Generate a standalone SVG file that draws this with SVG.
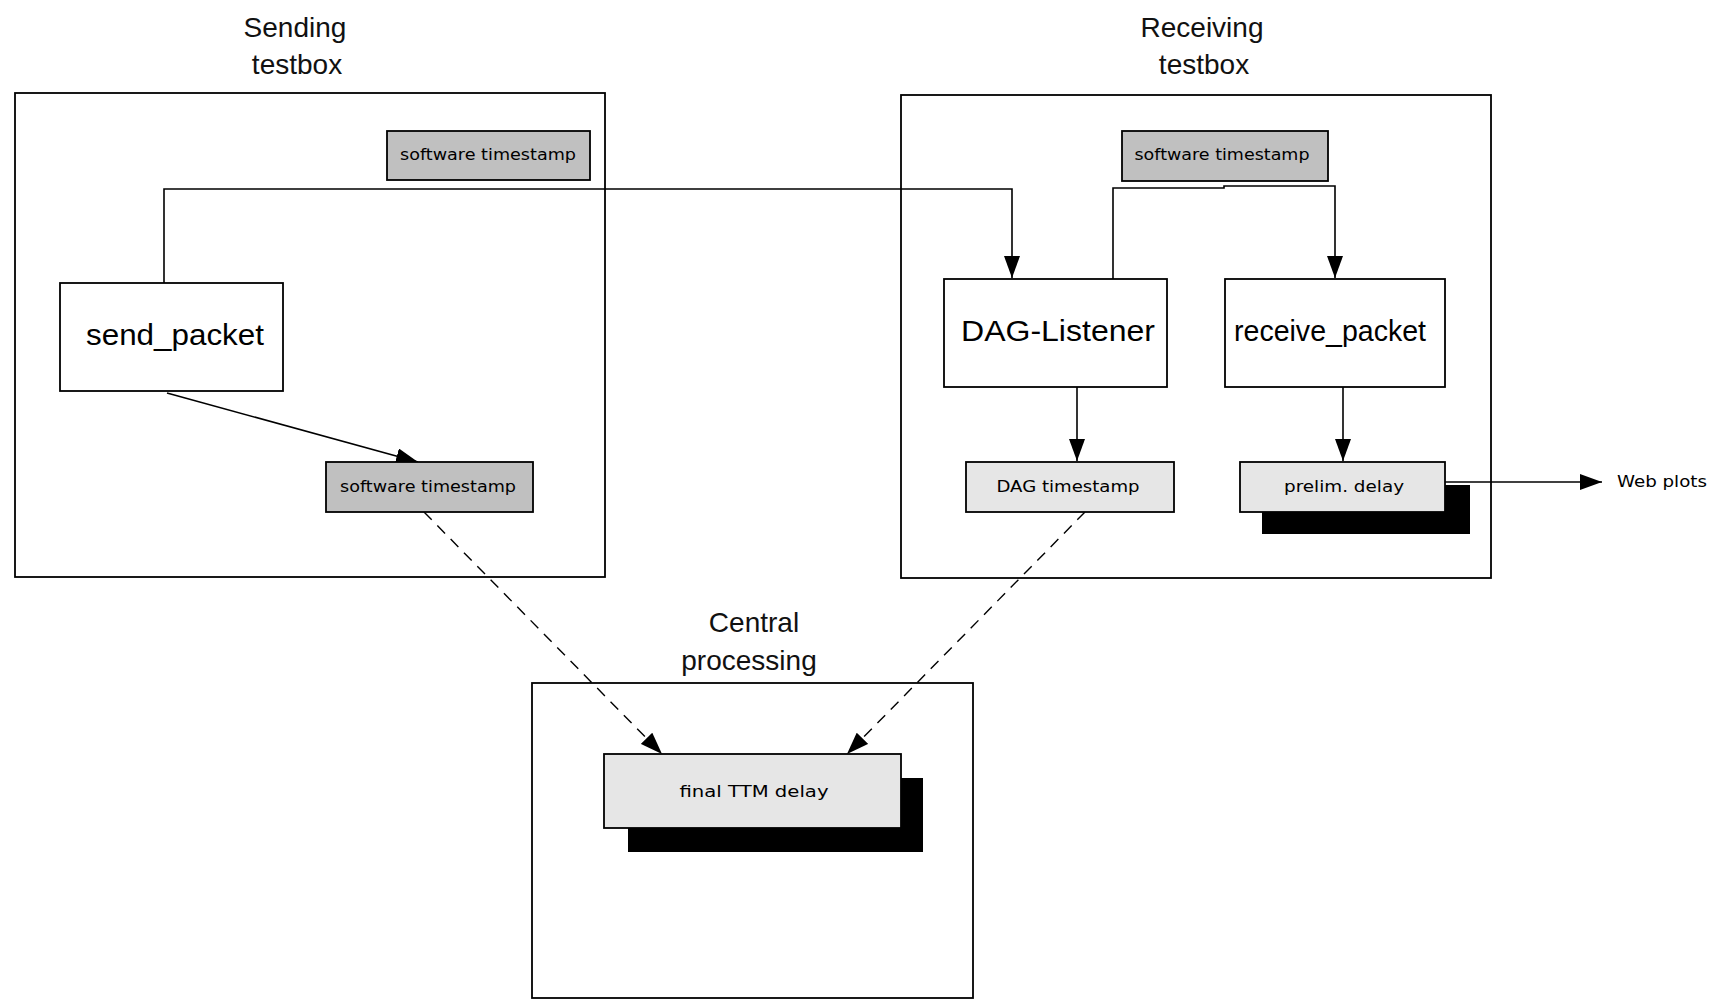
<svg xmlns="http://www.w3.org/2000/svg" width="1713" height="1005" viewBox="0 0 1713 1005">
<style>
.frame{fill:#fff;stroke:#000;stroke-width:1.8}
.proc{fill:#fff;stroke:#000;stroke-width:1.8}
.dark{fill:#c0c0c0;stroke:#000;stroke-width:1.8}
.light{fill:#e6e6e6;stroke:#000;stroke-width:1.8}
.shadow{fill:#000}
.title{font-family:"Liberation Sans",Arial,sans-serif;font-size:28px;fill:#111;text-anchor:middle}
.big{font-family:"Liberation Sans",Arial,sans-serif;font-size:30px;fill:#000;text-anchor:middle}
.small{font-family:"DejaVu Sans",Verdana,sans-serif;font-size:15px;fill:#000;text-anchor:middle}
.conn{fill:none;stroke:#000;stroke-width:1.6}
.dash{fill:none;stroke:#000;stroke-width:1.4;stroke-dasharray:11 8}
</style>
<defs>
<marker id="arr" viewBox="0 0 22 16" refX="22" refY="8" markerWidth="22" markerHeight="16" markerUnits="userSpaceOnUse" orient="auto">
<path d="M0,0 L22,8 L0,16 z" fill="#000"/>
</marker>
</defs>
<rect width="1713" height="1005" fill="#fff"/>

<g id="sending-testbox">
<rect class="frame" x="15" y="93" width="590" height="484"/>
<text class="title" x="295" y="37">Sending</text>
<text class="title" x="297" y="74">testbox</text>
</g>

<g id="receiving-testbox">
<rect class="frame" x="901" y="95" width="590" height="483"/>
<text class="title" x="1202" y="37">Receiving</text>
<text class="title" x="1204" y="74">testbox</text>
</g>

<g id="central-processing">
<rect class="frame" x="532" y="683" width="441" height="315"/>
<text class="title" x="754" y="632">Central</text>
<text class="title" x="749" y="670">processing</text>
</g>

<g id="connectors">
<polyline class="conn" points="164,283 164,189 1012,189 1012,278" marker-end="url(#arr)"/>
<line class="conn" x1="167" y1="393" x2="418" y2="462" marker-end="url(#arr)"/>
<polyline class="conn" points="1113,279 1113,188 1224,188 1224,186 1335,186 1335,278" marker-end="url(#arr)"/>
<line class="conn" x1="1077" y1="387" x2="1077" y2="461" marker-end="url(#arr)"/>
<line class="conn" x1="1343" y1="387" x2="1343" y2="461" marker-end="url(#arr)"/>
<line class="conn" x1="1445" y1="482" x2="1602" y2="482" marker-end="url(#arr)"/>
<line class="dash" x1="424" y1="512" x2="662" y2="754" marker-end="url(#arr)"/>
<line class="dash" x1="1085" y1="512" x2="847" y2="754" marker-end="url(#arr)"/>
</g>

<g id="sw-timestamp-send-top">
<rect class="dark" x="387" y="131" width="203" height="49"/>
<text class="small" x="488" y="160" textLength="176" lengthAdjust="spacingAndGlyphs">software timestamp</text>
</g>

<g id="send-packet">
<rect class="proc" x="60" y="283" width="223" height="108"/>
<text class="big" x="175" y="345" textLength="178" lengthAdjust="spacingAndGlyphs">send_packet</text>
</g>

<g id="sw-timestamp-send-bottom">
<rect class="dark" x="326" y="462" width="207" height="50"/>
<text class="small" x="428" y="492" textLength="176" lengthAdjust="spacingAndGlyphs">software timestamp</text>
</g>

<g id="sw-timestamp-recv">
<rect class="dark" x="1122" y="131" width="206" height="50"/>
<text class="small" x="1222" y="160" textLength="175" lengthAdjust="spacingAndGlyphs">software timestamp</text>
</g>

<g id="dag-listener">
<rect class="proc" x="944" y="279" width="223" height="108"/>
<text class="big" x="1058" y="341" textLength="194" lengthAdjust="spacingAndGlyphs">DAG-Listener</text>
</g>

<g id="receive-packet">
<rect class="proc" x="1225" y="279" width="220" height="108"/>
<text class="big" x="1330" y="341" textLength="192" lengthAdjust="spacingAndGlyphs">receive_packet</text>
</g>

<g id="dag-timestamp">
<rect class="light" x="966" y="462" width="208" height="50"/>
<text class="small" x="1068" y="492" textLength="143" lengthAdjust="spacingAndGlyphs">DAG timestamp</text>
</g>

<g id="prelim-delay">
<rect class="shadow" x="1262" y="485" width="208" height="49"/>
<rect class="light" x="1240" y="462" width="205" height="50"/>
<text class="small" x="1344" y="492" textLength="120" lengthAdjust="spacingAndGlyphs">prelim. delay</text>
</g>

<g id="web-plots">
<text class="small" x="1617" y="487" style="text-anchor:start" textLength="90" lengthAdjust="spacingAndGlyphs">Web plots</text>
</g>

<g id="final-ttm-delay">
<rect class="shadow" x="628" y="778" width="295" height="74"/>
<rect class="light" x="604" y="754" width="297" height="74"/>
<text class="small" x="754" y="797" textLength="149" lengthAdjust="spacingAndGlyphs">final TTM delay</text>
</g>
</svg>
